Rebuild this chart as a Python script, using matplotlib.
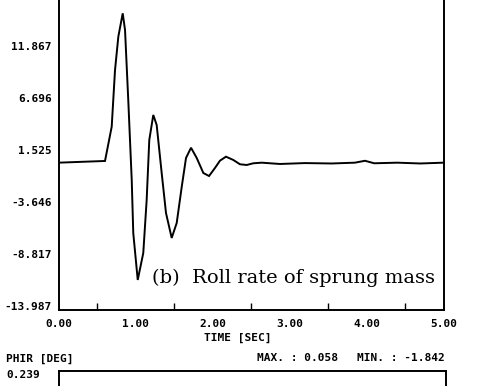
import matplotlib
matplotlib.use("Agg")
import matplotlib.pyplot as plt
import matplotlib.transforms as mtransforms

# Roll rate of sprung mass vs time
time_s = [0.0, 0.604, 0.691, 0.734, 0.777, 0.834, 0.864, 0.906, 0.951, 0.971,
          1.029, 1.101, 1.145, 1.179, 1.231, 1.275, 1.340, 1.396, 1.470, 1.535,
          1.600, 1.656, 1.721, 1.795, 1.881, 1.955, 2.032, 2.097, 2.175, 2.270,
          2.357, 2.444, 2.530, 2.639, 2.877, 3.20, 3.55, 3.85, 3.98, 4.10,
          4.40, 4.70, 5.0]
roll_rate = [0.66, 0.83, 4.25, 9.90, 13.23, 15.56, 13.90, 6.91, -1.07, -6.36,
             -11.04, -8.35, -3.06, 2.92, 5.42, 4.42, -0.37, -4.36, -6.85, -5.36,
             -1.77, 1.13, 2.15, 1.13, -0.37, -0.67, 0.13, 0.86, 1.26, 0.93,
             0.50, 0.43, 0.60, 0.66, 0.53, 0.62, 0.58, 0.66, 0.85, 0.60,
             0.66, 0.58, 0.66]

y_ticks = [-13.987, -8.817, -3.646, 1.525, 6.696, 11.867, 17.038]
y_tick_labels = ["-13.987", "-8.817", "-3.646", "1.525", "6.696", "11.867", "17.038"]
x_ticks = [0, 1, 2, 3, 4, 5]
x_tick_labels = ["0.00", "1.00", "2.00", "3.00", "4.00", "5.00"]
x_minor = [0.5, 1.0, 1.5, 2.0, 2.5, 3.0, 3.5, 4.0, 4.5]

W, H = 478, 386
fig = plt.figure(figsize=(W / 100, H / 100), dpi=100)
fig.patch.set_facecolor("white")

mono = dict(family="DejaVu Sans Mono", weight="bold", size=8)

def px_box(left, top, right, bottom):
    return [left / W, (H - bottom) / H, (right - left) / W, (bottom - top) / H]

ax = fig.add_axes(px_box(58.5, -1.5, 443.5, 309.5))
ax.plot(time_s, roll_rate, color="black", lw=1.4, solid_joinstyle="miter")
ax.set_xlim(0, 5)
ax.set_ylim(y_ticks[0], y_ticks[-1])
ax.set_yticks(y_ticks)
ax.set_yticklabels(y_tick_labels, fontdict=mono)
ax.set_xticks(x_ticks)
ax.set_xticklabels(x_tick_labels, fontdict=mono)
ax.set_xticks(x_minor, minor=True)
ax.tick_params(axis="y", length=0, pad=5)
ax.tick_params(axis="x", which="major", length=0, pad=7)
ax.tick_params(axis="x", which="minor", direction="in", length=5, width=1, color="black")
for s in ax.spines.values():
    s.set_linewidth(1.4)
    s.set_color("black")

shift = mtransforms.ScaledTranslation(0, 4 / 100, fig.dpi_scale_trans)
for lab in ax.get_yticklabels():
    lab.set_transform(lab.get_transform() + shift)

ax.text(152 / W, (H - 283) / H, "(b)  Roll rate of sprung mass",
        transform=fig.transFigure, family="DejaVu Serif", size=14,
        ha="left", va="baseline", color="black")

fig.text(238 / W, (H - 338) / H, "TIME [SEC]", ha="center", va="center", **mono)
fig.text(6 / W, (H - 359) / H, "PHIR [DEG]", ha="left", va="center", **mono)
fig.text(257 / W, (H - 358) / H, "MAX. : 0.058", ha="left", va="center", **mono)
fig.text(357 / W, (H - 358) / H, "MIN. : -1.842", ha="left", va="center", **mono)
fig.text(6 / W, (H - 375) / H, "0.239", ha="left", va="center", **mono)

ax2 = fig.add_axes(px_box(59, 371, 446, 460))
ax2.set_xticks([])
ax2.set_yticks([])
for s in ax2.spines.values():
    s.set_linewidth(1.4)
    s.set_color("black")

fig.savefig("out.png", dpi=100)
